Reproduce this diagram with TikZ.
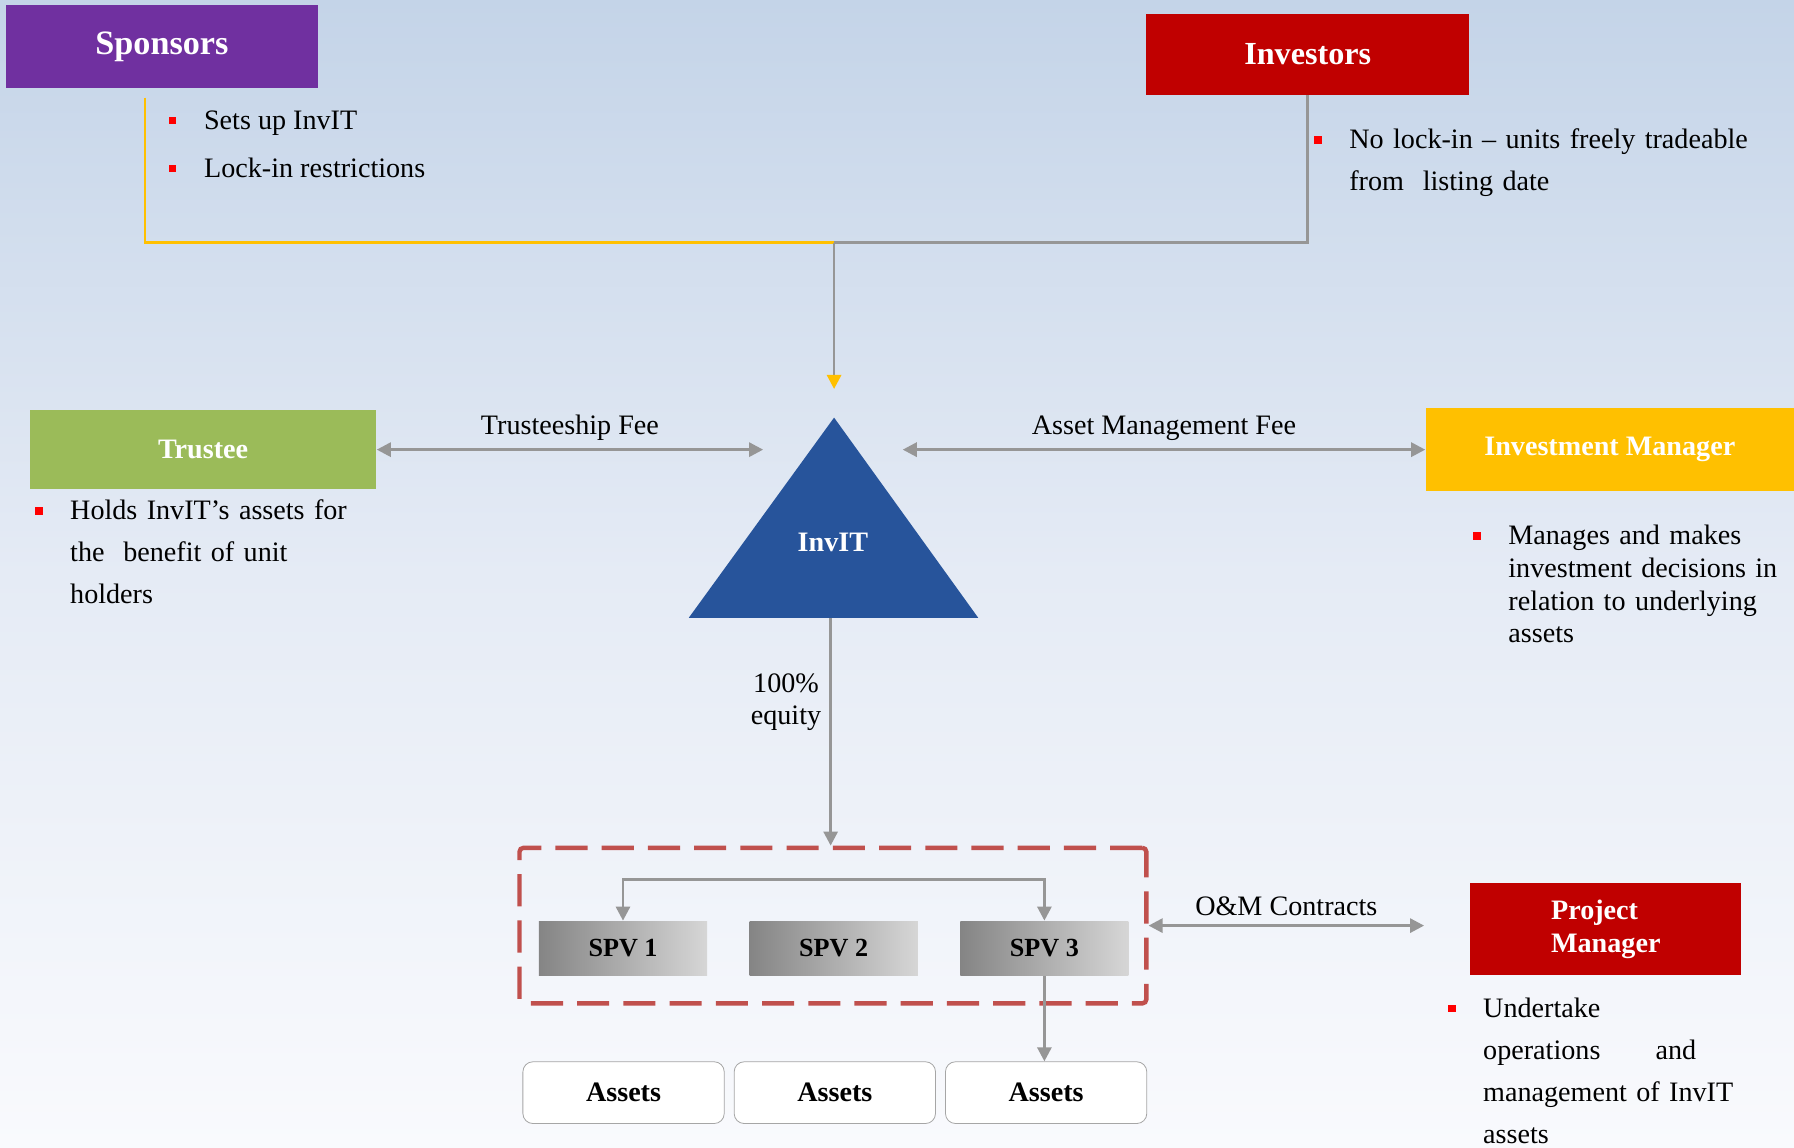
\documentclass[tikz,border=0pt]{standalone}
\usepackage{fontspec}
\setmainfont{Liberation Serif}
\usetikzlibrary{arrows.meta,positioning,calc}
\definecolor{sponsorpurple}{HTML}{7030A0}
\definecolor{darkred}{HTML}{C00000}
\definecolor{olivegreen}{HTML}{9BBB59}
\definecolor{amber}{HTML}{FFC000}
\definecolor{invitblue}{HTML}{27549B}
\definecolor{linegray}{HTML}{969696}
\definecolor{dashred}{HTML}{C0504D}
\definecolor{bgtop}{RGB}{196,212,232}
\definecolor{bgmid}{RGB}{229,235,245}
\definecolor{bgbot}{RGB}{249,250,253}

\begin{document}
\begin{tikzpicture}[
  x=0.02cm, y=-0.02cm,
  font=\fontsize{14}{21}\selectfont,
  >={Triangle[length=7pt,width=7pt]},
  role/.style={rectangle, inner sep=2pt, align=center, text=white,
               font=\fontsize{14}{16.5}\selectfont\bfseries},
  note/.style={inner sep=0pt, anchor=base west, align=left},
  bul/.style={rectangle, fill=red, minimum size=0.13cm, inner sep=0pt},
  link/.style={draw=linegray, line width=1.4pt},
  yline/.style={draw=amber, line width=1.3pt},
  lbl/.style={font=\fontsize{14}{16}\selectfont, inner sep=4pt},
  grp/.style={draw=dashred, line width=2.2pt, dash pattern=on 16pt off 7pt,
              rounded corners=2pt, minimum width=10.96cm, minimum height=2.72cm},
  spv/.style={rectangle, left color=black!48, right color=black!16,
              minimum width=2.94cm, minimum height=0.96cm,
              font=\fontsize{13}{15}\selectfont\bfseries},
  asset/.style={rectangle, rounded corners=5pt, draw=black!35, fill=white,
                minimum width=3.52cm, minimum height=1.08cm,
                font=\fontsize{14}{17}\selectfont\bfseries},
]

\shade[top color=bgtop, bottom color=bgbot, middle color=bgmid] (0,0) rectangle (1568,1003);
\useasboundingbox (0,0) rectangle (1568,1003);

\node[role, fill=sponsorpurple, minimum width=5.46cm, minimum height=1.46cm,
      font=\fontsize{17}{20}\selectfont\bfseries] (spons) at (141.5,40.5) {Sponsors};
\node[role, fill=darkred, minimum width=5.64cm, minimum height=1.42cm,
      font=\fontsize{16}{19}\selectfont\bfseries] (invs) at (1143,47.5) {Investors};
\node[role, fill=olivegreen, minimum width=6.06cm, minimum height=1.38cm] (trus) at (177.5,393) {Trustee};
\node[role, fill=amber, minimum width=6.44cm, minimum height=1.44cm] (invmgr) at (1407,393) {Investment Manager};
\node[role, fill=darkred, minimum width=4.74cm, minimum height=1.6cm, align=left] (projmgr) at (1403.5,812) {Project\\Manager};

\fill[invitblue] (729,365) -- (855,540) -- (602,540) -- cycle;
\node[text=white, font=\fontsize{14}{17}\selectfont\bfseries] (invit) at (728,474) {InvIT};
\coordinate (invtop) at (729,340);
\coordinate (invleft) at (667,393);
\coordinate (invright) at (789,393);
\coordinate (invbase) at (726,540);
\coordinate (join) at (729,212);

\node[note] (sp1) at (178,113) {Sets up InvIT};
\node[note] (sp2) at (178,155) {Lock-in restrictions};
\node[note, text width=7.5cm] (invnote) at (1179,130) {No lock-in – units freely tradeable\\from\ \ listing date};
\node[note, text width=6cm] (trusnote) at (61,454) {Holds InvIT’s assets for\\the\ \ benefit of unit\\holders};
\node[note, text width=5.2cm, font=\fontsize{14}{16.3}\selectfont] (imnote) at (1318,476) {Manages and makes\\investment decisions in\\relation to underlying\\assets};
\node[note, text width=4.5cm] (pmnote) at (1296,889) {Undertake\\operations\hspace{0.8cm} and\\\makebox[4.5cm][s]{management of InvIT}\\assets};

\node[bul] (sp1b) at ($(sp1.base west)+(-0.54cm,0.15cm)$) {};
\node[bul] (sp2b) at ($(sp2.base west)+(-0.54cm,0.15cm)$) {};
\node[bul] (invb) at ($(invnote.base west)+(-0.54cm,0.15cm)$) {};
\node[bul] (trusb) at ($(trusnote.base west)+(-0.54cm,0.15cm)$) {};
\node[bul] (imb) at ($(imnote.base west)+(-0.54cm,0.15cm)$) {};
\node[bul] (pmb) at ($(pmnote.base west)+(-0.54cm,0.15cm)$) {};

\node[grp] (spvgrp) at (728,809) {};
\node[spv] (spv1) at (544.5,829) {SPV 1};
\node[spv, right=0.73cm of spv1] (spv2) {SPV 2};
\node[spv, right=0.73cm of spv2] (spv3) {SPV 3};

\node[asset] (ast1) at (545,955) {Assets};
\node[asset, right=0.16cm of ast1] (ast2) {Assets};
\node[asset, right=0.16cm of ast2] (ast3) {Assets};

\draw[yline] ([xshift=2.44cm,yshift=-0.16cm]spons.south west) |- (join);
\draw[link] (invs.south) |- (join);
\draw[link, -{Triangle[length=7pt,width=7pt,color=amber]}] (join) -- (invtop);
\draw[link, <->] (trus.east) -- node[lbl, above]{Trusteeship Fee} (invleft);
\draw[link, <->] (invright) -- node[lbl, above]{Asset Management Fee} (invmgr.west);
\draw[link, ->] (invbase) -- node[lbl, left, pos=0.37, align=center]{100\%\\equity} (invbase |- spvgrp.north);
\draw[link, <->] (spv1.north) -- ++(0,-36) -| (spv3.north);
\draw[link, ->] (spv3.south) -- (spv3.south |- ast3.north);
\draw[link, <->] (spvgrp.east) -- node[lbl, above]{O\&M Contracts} ([xshift=-0.8cm]spvgrp.east -| projmgr.west);

\end{tikzpicture}
\end{document}
